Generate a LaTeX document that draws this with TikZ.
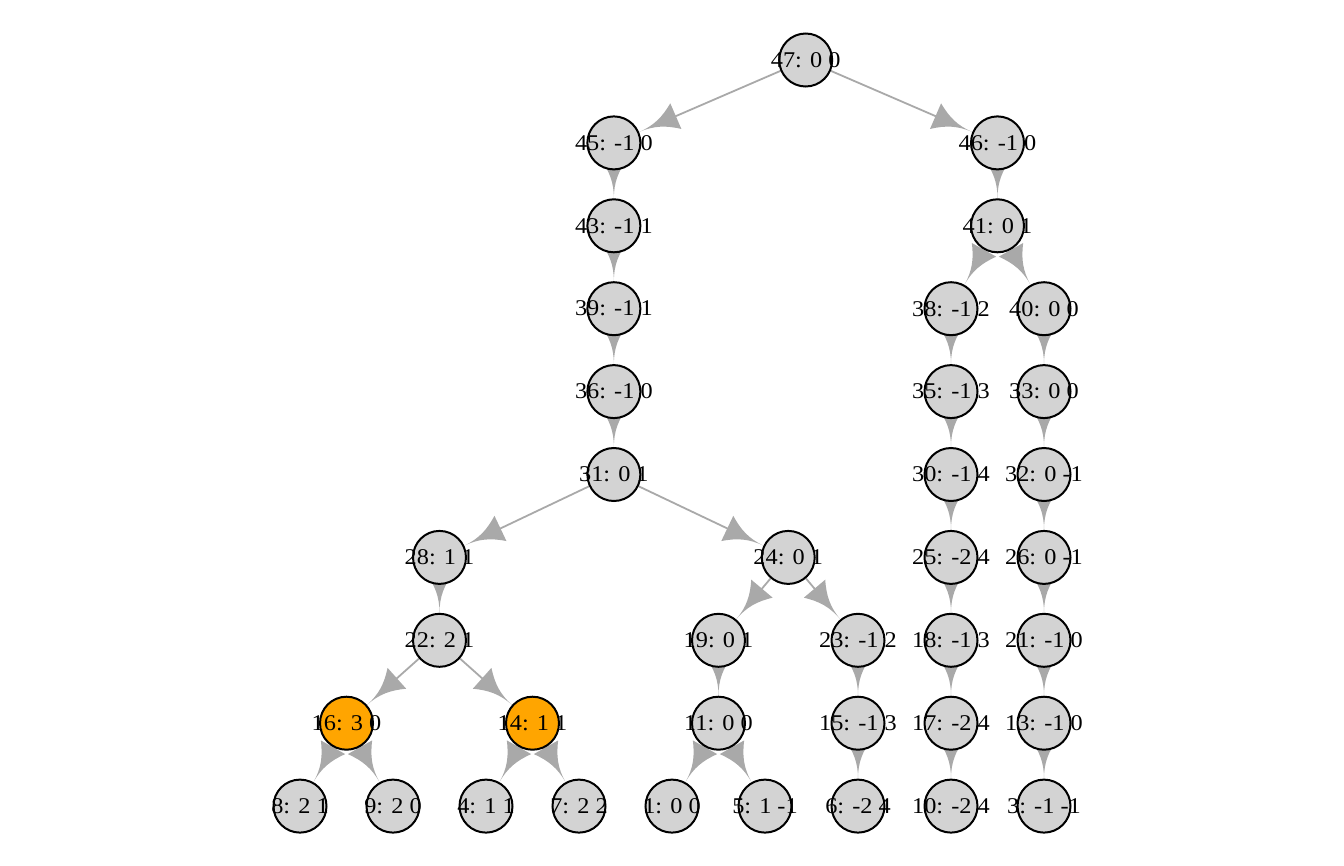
\documentclass[tikz,border=0pt]{standalone}
\usepackage{fontspec}
\setmainfont{Liberation Serif}[FakeStretch=1.08]
\usetikzlibrary{arrows.meta,backgrounds}

\definecolor{vgray}{HTML}{D3D3D3}
\definecolor{vorange}{HTML}{FFA500}
\definecolor{egray}{HTML}{A9A9A9}

% Pfeilspitze mit eingezogenen Flanken
\pgfdeclarearrow{
    name = Flare,
    parameters = {\the\pgfarrowlength,\the\pgfarrowwidth},
    setup code = {
        \pgfarrowssettipend{0pt}
        \pgfarrowssetlineend{-.7\pgfarrowlength}
        \pgfarrowssetbackend{-\pgfarrowlength}
        \pgfarrowssetvisualbackend{-\pgfarrowlength}
        \pgfarrowsupperhullpoint{-\pgfarrowlength}{.5\pgfarrowwidth}
        \pgfarrowsupperhullpoint{0pt}{0pt}
        \pgfarrowssavethe\pgfarrowlength
        \pgfarrowssavethe\pgfarrowwidth
    },
    drawing code = {
        \pgfpathmoveto{\pgfpointorigin}
        \pgfpathcurveto{\pgfpoint{-.4\pgfarrowlength}{0pt}}{\pgfpoint{-.68\pgfarrowlength}{.16\pgfarrowwidth}}{\pgfpoint{-\pgfarrowlength}{.5\pgfarrowwidth}}
        \pgfpathlineto{\pgfpoint{-\pgfarrowlength}{-.5\pgfarrowwidth}}
        \pgfpathcurveto{\pgfpoint{-.68\pgfarrowlength}{-.16\pgfarrowwidth}}{\pgfpoint{-.4\pgfarrowlength}{0pt}}{\pgfpointorigin}
        \pgfpathclose
        \pgfusepathqfill
    },
    defaults = {length = 40pt, width = 28pt}
}

\begin{document}
\begin{tikzpicture}[
        x=46.5pt, y=-82.9pt,
        font=\fontsize{22.5}{25}\selectfont,
        vert/.style={circle, draw=black, line width=2pt, fill=vgray,
            minimum size=53pt, inner sep=0pt,
            execute at begin node={\hbox to 0pt\bgroup\hss},
            execute at end node={\hss\egroup}},
        hit/.style={vert, fill=vorange},
        link/.style={egray, line width=1.8pt, -{Flare[length=40pt, width=28pt]}}
        ]
            \useasboundingbox (-300pt,60pt) rectangle (1044pt,-805pt);

            % Knoten, linker Ast
            \node[vert] (n47) at (10.875,0) {47: 0 0};
            \node[vert] (n45) at (6.75,1) {45: -1 0};
            \node[vert] (n43) at (6.75,2) {43: -1 1};
            \node[vert] (n39) at (6.75,3) {39: -1 1};
            \node[vert] (n36) at (6.75,4) {36: -1 0};
            \node[vert] (n31) at (6.75,5) {31: 0 1};
            \node[vert] (n28) at (3,6) {28: 1 1};
            \node[vert] (n24) at (10.5,6) {24: 0 1};
            \node[vert] (n22) at (3,7) {22: 2 1};
            \node[vert] (n19) at (9,7) {19: 0 1};
            \node[vert] (n23) at (12,7) {23: -1 2};
            \node[hit]  (n16) at (1,8) {16: 3 0};
            \node[hit]  (n14) at (5,8) {14: 1 1};
            \node[vert] (n11) at (9,8) {11: 0 0};
            \node[vert] (n15) at (12,8) {15: -1 3};
            \node[vert] (n8)  at (0,9) {8: 2 1};
            \node[vert] (n9)  at (2,9) {9: 2 0};
            \node[vert] (n4)  at (4,9) {4: 1 1};
            \node[vert] (n7)  at (6,9) {7: 2 2};
            \node[vert] (n1)  at (8,9) {1: 0 0};
            \node[vert] (n5)  at (10,9) {5: 1 -1};
            \node[vert] (n6)  at (12,9) {6: -2 4};

            % Knoten, rechter Ast
            \node[vert] (n46) at (15,1) {46: -1 0};
            \node[vert] (n41) at (15,2) {41: 0 1};
            \node[vert] (n38) at (14,3) {38: -1 2};
            \node[vert] (n35) at (14,4) {35: -1 3};
            \node[vert] (n30) at (14,5) {30: -1 4};
            \node[vert] (n25) at (14,6) {25: -2 4};
            \node[vert] (n18) at (14,7) {18: -1 3};
            \node[vert] (n17) at (14,8) {17: -2 4};
            \node[vert] (n10) at (14,9) {10: -2 4};
            \node[vert] (n40) at (16,3) {40: 0 0};
            \node[vert] (n33) at (16,4) {33: 0 0};
            \node[vert] (n32) at (16,5) {32: 0 -1};
            \node[vert] (n26) at (16,6) {26: 0 -1};
            \node[vert] (n21) at (16,7) {21: -1 0};
            \node[vert] (n13) at (16,8) {13: -1 0};
            \node[vert] (n3)  at (16,9) {3: -1 -1};

            % Kanten
            \begin{scope}[on background layer]
                \path[link] (n47) edge (n45) edge (n46)
                            (n45) edge (n43)
                            (n43) edge (n39)
                            (n39) edge (n36)
                            (n36) edge (n31)
                            (n31) edge (n28) edge (n24)
                            (n28) edge (n22)
                            (n22) edge (n16) edge (n14)
                            (n16) edge (n8) edge (n9)
                            (n14) edge (n4) edge (n7)
                            (n24) edge (n19) edge (n23)
                            (n19) edge (n11)
                            (n11) edge (n1) edge (n5)
                            (n23) edge (n15)
                            (n15) edge (n6)
                            (n46) edge (n41)
                            (n41) edge (n38) edge (n40)
                            (n38) edge (n35)
                            (n35) edge (n30)
                            (n30) edge (n25)
                            (n25) edge (n18)
                            (n18) edge (n17)
                            (n17) edge (n10)
                            (n40) edge (n33)
                            (n33) edge (n32)
                            (n32) edge (n26)
                            (n26) edge (n21)
                            (n21) edge (n13)
                            (n13) edge (n3);
            \end{scope}

        \end{tikzpicture}
\end{document}
